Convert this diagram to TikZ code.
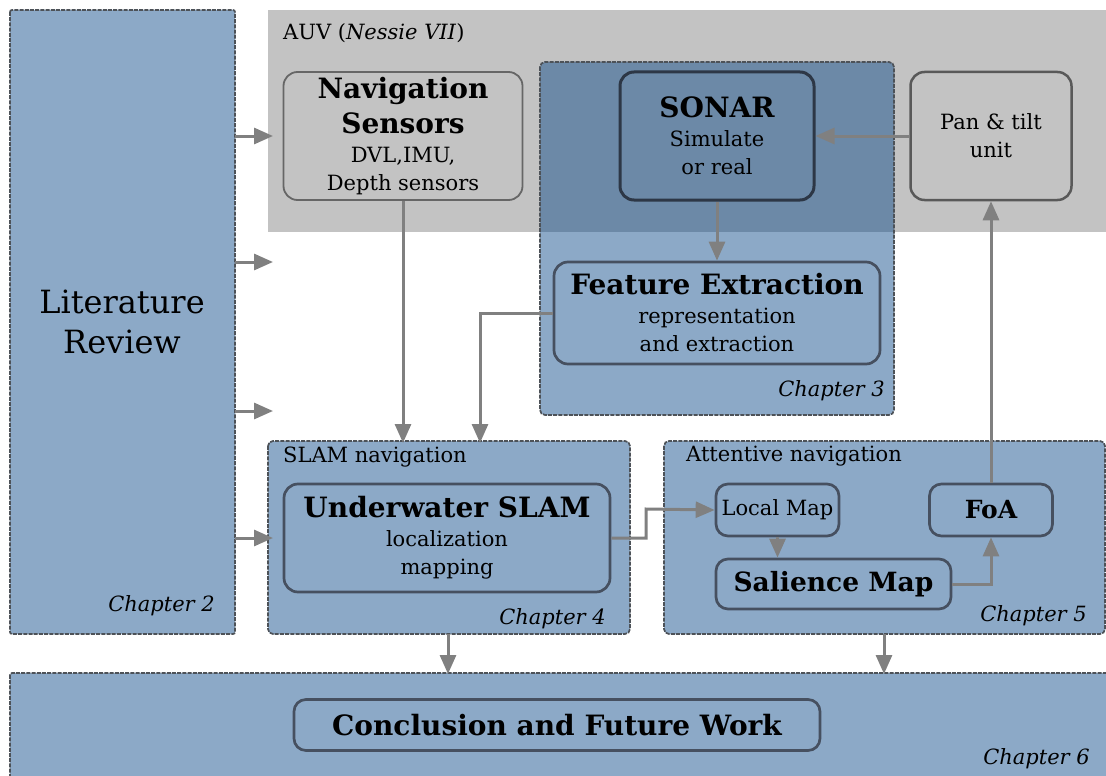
\documentclass[tikz,border=0pt]{standalone}
\usepackage{fontspec}
\setmainfont{DejaVu Serif}
\usetikzlibrary{arrows.meta}
\definecolor{greyband}{HTML}{C3C3C3}
\definecolor{chapblue}{RGB}{11,73,137}
\definecolor{boxedge}{HTML}{465060}
\definecolor{sonaredge}{RGB}{45,55,70}
\definecolor{dashedge}{HTML}{4D5258}
\definecolor{arrowgrey}{HTML}{808080}
\newcommand\ttlfont{\fontsize{28}{35}\selectfont\bfseries}
\newcommand\subfont{\fontsize{21}{28}\selectfont}
\newcommand\lblfont{\fontsize{21}{26}\selectfont}
\newcommand\chapfont{\fontsize{21}{26}\selectfont\itshape}
\tikzset{
  chapbox/.style={draw=dashedge, line width=1.7pt, dash pattern=on 4pt off 1.2pt, fill=chapblue, fill opacity=0.47, text opacity=1, rounded corners=5pt},
  inbox/.style={draw=boxedge, line width=2.7pt, rounded corners=14pt, align=center, inner sep=0pt, font=\subfont},
  conn/.style={draw=arrowgrey, line width=3pt, -{Triangle[length=19pt,width=16pt]}},
  lbl/.style={anchor=west, inner sep=0pt, font=\lblfont},
  chap/.style={anchor=east, inner sep=0pt, font=\chapfont},
}
\begin{document}
\begin{tikzpicture}[x=1pt,y=-1pt]
\useasboundingbox (0,0) rectangle (1106,776);
% grey AUV band
\fill[greyband] (268,10) rectangle (1106,232);
\node[lbl] (auvlbl) at (283,33) {AUV (\textit{Nessie VII})};
% chapter boxes
\draw[chapbox, rounded corners=2pt] (10,10) rectangle (235,634);
\node[font=\fontsize{32}{40}\selectfont, align=center] (lit) at (122,322) {Literature\\Review};
\node[chap] (ch2) at (215,606) {Chapter 2};

\draw[chapbox] (540,62) rectangle (894,415);
\node[chap] (ch3) at (885,391) {Chapter 3};

\draw[chapbox] (268,441) rectangle (630,634);
\node[lbl] (slamlbl) at (283,457) {SLAM navigation};
\node[chap] (ch4) at (606,619) {Chapter 4};

\draw[chapbox] (664,441) rectangle (1105,634);
\node[lbl] (attlbl) at (686,456) {Attentive navigation};
\node[chap] (ch5) at (1087,616) {Chapter 5};

\draw[chapbox, rounded corners=2pt] (10,673) rectangle (1112,790);
\node[chap] (ch6) at (1090,759) {Chapter 6};

% inner nodes
\node[inbox, draw=black!60, line width=1.8pt, minimum width=239pt, minimum height=128pt] (nav) at (403,136)
  {{\ttlfont Navigation}\\[7pt]{\ttlfont Sensors}\\[1pt]DVL,IMU,\\Depth sensors};
\node[inbox, draw=sonaredge, line width=3pt, minimum width=194pt, minimum height=128pt] (sonar) at (717,136)
  {{\ttlfont SONAR}\\[1pt]Simulate\\or real};
\node[inbox, draw=black!65, line width=2.5pt, minimum width=161pt, minimum height=128pt] (pan) at (991,136)
  {Pan \& tilt\\unit};
\node[inbox, minimum width=326pt, minimum height=102pt] (feat) at (717,313)
  {{\ttlfont Feature Extraction}\\[1pt]representation\\and extraction};
\node[inbox, minimum width=326pt, minimum height=108pt] (uslam) at (447,538)
  {{\ttlfont Underwater SLAM}\\[1pt]localization\\mapping};
\node[inbox, rounded corners=12pt, minimum width=123pt, minimum height=52pt, font=\lblfont] (local) at (777.5,510)
  {Local Map};
\node[inbox, rounded corners=12pt, minimum width=123pt, minimum height=52pt, font=\fontsize{25}{30}\selectfont\bfseries] (foa) at (991,510)
  {FoA};
\node[inbox, rounded corners=12pt, minimum width=235pt, minimum height=50pt, font=\fontsize{26.5}{30}\selectfont\bfseries] (sal) at (833.5,584)
  {Salience Map};
\node[inbox, rounded corners=12pt, minimum width=526pt, minimum height=51pt, font=\fontsize{28}{32}\selectfont\bfseries] (concl) at (557,725)
  {Conclusion and Future Work};

% coordinates for connectors
\coordinate (l1s) at (235,136); \coordinate (l1e) at (273,136);
\coordinate (l2s) at (235,262); \coordinate (l2e) at (273,262);
\coordinate (l3s) at (235,411); \coordinate (l3e) at (273,411);
\coordinate (l4s) at (235,538); \coordinate (l4e) at (273,538);
\coordinate (slamtopA) at (403,443);
\coordinate (slamtopB) at (480,443);
\coordinate (slambot) at (448,634); \coordinate (conA) at (448,674);
\coordinate (attbot) at (884,634); \coordinate (conB) at (884,674);

\draw[conn] (l1s) -- (l1e);
\draw[conn] (l2s) -- (l2e);
\draw[conn] (l3s) -- (l3e);
\draw[conn] (l4s) -- (l4e);
\draw[conn] (nav.south) -- (nav.south |- slamtopA);
\draw[conn] (feat.west) -- (feat.west -| slamtopB) -- (slamtopB);
\draw[conn] (sonar.south -| feat.north) -- (feat.north);
\draw[conn] (pan.west) -- (sonar.east |- pan.west);
\draw[conn] (uslam.east) -- (646,538) -- (646,509) -- (local.west);
\draw[conn] (local.south) -- (sal.north -| local.south);
\draw[conn] (sal.east) -- (sal.east -| foa.south) -- (foa.south);
\draw[conn] (foa.north) -- (pan.south);
\draw[conn] (slambot) -- (conA);
\draw[conn] (attbot) -- (conB);
\end{tikzpicture}
\end{document}
